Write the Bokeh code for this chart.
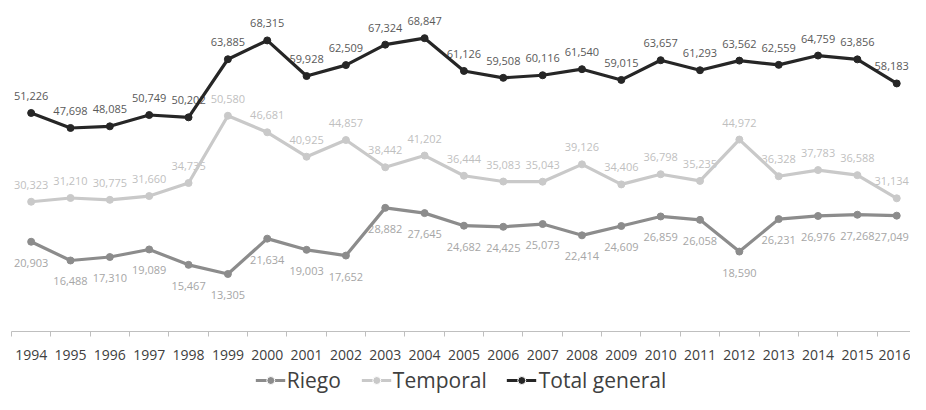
from bokeh.plotting import figure
from bokeh.layouts import column
from bokeh.models import Range1d, FixedTicker, Legend, LegendItem, ColumnDataSource
from bokeh.core.properties import value
from bokeh.embed import file_html
from bokeh.resources import INLINE

years = [str(y) for y in range(1994, 2017)]
riego = [20903, 16488, 17310, 19089, 15467, 13305, 21634, 19003, 17652, 28882, 27645,
         24682, 24425, 25073, 22414, 24609, 26859, 26058, 18590, 26231, 26976, 27268, 27049]
temporal = [30323, 31210, 30775, 31660, 34735, 50580, 46681, 40925, 44857, 38442, 41202,
            36444, 35083, 35043, 39126, 34406, 36798, 35235, 44972, 36328, 37783, 36588, 31134]
total = [51226, 47698, 48085, 50749, 50202, 63885, 68315, 59928, 62509, 67324, 68847,
         61126, 59508, 60116, 61540, 59015, 63657, 61293, 63562, 62559, 64759, 63856, 58183]

FONT = "Open Sans"
xs = list(range(len(years)))
# keep the last column's labels inside the canvas
x_shift = [0] * (len(years) - 1) + [-5]

p = figure(width=910, height=366, output_backend="svg", toolbar_location=None,
           x_range=Range1d(-0.5, 22.35), y_range=Range1d(-235, 77720),
           min_border_left=11, min_border_right=0, min_border_top=0, min_border_bottom=35)
p.outline_line_color = None
p.xgrid.visible = False
p.ygrid.visible = False
p.yaxis.visible = False

ax = p.xaxis[0]
ax.ticker = FixedTicker(ticks=xs, minor_ticks=[i - 0.5 for i in range(len(years) + 1)])
ax.major_label_overrides = {i: y for i, y in enumerate(years)}
ax.major_tick_out = 0
ax.major_tick_in = 0
ax.minor_tick_out = 5
ax.minor_tick_in = 0
ax.minor_tick_line_color = "#bfbfbf"
ax.axis_line_color = "#bfbfbf"
ax.major_label_text_font = FONT
ax.major_label_text_font_size = "14px"
ax.major_label_text_color = "#404040"
ax.major_label_standoff = 13

series = [
    ("Riego", riego, "#8c8c8c", "#a6a6a6", 21),
    ("Temporal", temporal, "#c9c9c9", "#bfbfbf", -17),
    ("Total general", total, "#262626", "#595959", -17),
]

# labels first so lines sit on top
for name, vals, col, lcol, off in series:
    src = ColumnDataSource(dict(x=xs, y=vals, t=[f"{v:,}" for v in vals], dx=x_shift))
    p.text(x="x", y="y", text="t", source=src, text_font=value(FONT),
           text_font_size="11px", text_color=lcol, text_align="center",
           text_baseline="middle", y_offset=off, x_offset="dx")

for name, vals, col, lcol, off in series:
    src = ColumnDataSource(dict(x=xs, y=vals))
    p.line(x="x", y="y", source=src, line_color=col, line_width=3.2)
    p.scatter(x="x", y="y", source=src, size=7, fill_color=col, line_color=col)

# legend strip underneath: same series, outside this strip's view, so only the legend shows
leg = figure(width=910, height=28, output_backend="svg", toolbar_location=None,
             x_range=Range1d(-1000, -999), y_range=Range1d(-1000, -999),
             min_border_left=0, min_border_right=0, min_border_top=0, min_border_bottom=0)
leg.axis.visible = False
leg.xgrid.visible = False
leg.ygrid.visible = False
leg.outline_line_color = None
items = []
for name, vals, col, lcol, off in series:
    src = ColumnDataSource(dict(x=xs, y=vals))
    lr = leg.line(x="x", y="y", source=src, line_color=col, line_width=3)
    sr = leg.scatter(x="x", y="y", source=src, size=4, fill_color=col, line_color="white",
                     line_width=1)
    items.append(LegendItem(label=name, renderers=[lr, sr]))

legend = Legend(items=items, orientation="horizontal", location="center",
                label_text_font=FONT, label_text_font_size="21px", label_text_color="#404040",
                glyph_width=30, glyph_height=20, label_standoff=2, spacing=20,
                padding=0, margin=0, border_line_color=None, background_fill_alpha=0)
leg.add_layout(legend, "center")

layout = column(p, leg, spacing=0)
open("out.html", "w").write(file_html(layout, INLINE))
